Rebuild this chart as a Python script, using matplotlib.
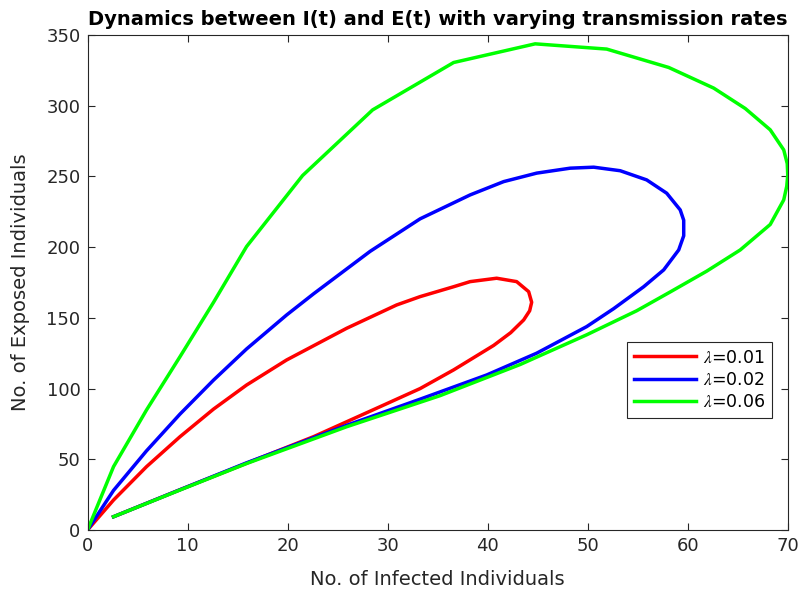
import matplotlib.pyplot as plt

plt.rcParams['font.family'] = ['DejaVu Sans']
plt.rcParams['mathtext.fontset'] = 'stix'

# Trajectories (I = infected, E = exposed)
red_I = [0, 2.6, 5.9, 9.25, 12.6, 15.9, 19.9, 25.9, 30.9, 33.25, 36.6, 38.25,
         40.9, 42.9, 44.1, 44.4, 44.2, 43.6, 42.3, 40.6, 36.6, 33.25, 29.25,
         22.6, 15.9, 9.25, 2.6]
red_E = [0, 21.2, 44.8, 66, 85.5, 102.5, 120.2, 142.6, 159.1, 165, 172, 175.6,
         178, 175.6, 168.5, 161, 155, 148.5, 139.5, 130.5, 113.2, 100, 87.2,
         66, 47.2, 28.5, 9.4]

blue_I = [0, 2.6, 5.9, 9.25, 12.6, 15.9, 19.9, 22.6, 28.25, 33.25, 38.25, 41.6,
          44.9, 48.25, 50.6, 53.25, 55.9, 57.9, 59.25, 59.6, 59.6, 59.1, 57.6,
          55.6, 52.6, 49.9, 44.9, 39.9, 33.25, 25.9, 15.9, 9.25, 2.6]
blue_E = [0, 28, 56, 82, 106, 128, 152, 167, 197, 220, 236.9, 246.3,
          252.3, 255.8, 256.5, 254, 247.5, 238.1, 226.3, 219, 208, 198, 183.9,
          172, 156.5, 143.8, 125, 109.6, 92.5, 74, 47.5, 28.5, 9.4]

green_I = [0, 2.6, 5.9, 9.25, 12.6, 15.9, 21.5, 28.5, 36.6, 44.75, 51.9, 58.1,
           62.6, 65.75, 68.25, 69.6, 69.95, 70.0, 69.9, 69.6, 68.25, 65.25,
           61.9, 58.3, 54.9, 49.9, 43.25, 35.25, 25.9, 15.9, 9.25, 2.6]
green_E = [0, 44.8, 84.9, 122.6, 161, 200.4, 250.6, 297, 330.5, 343.7, 340, 327,
           312.4, 298, 282.9, 268.7, 259, 251, 243, 233.4, 216, 198,
           183, 168.5, 155, 138, 117, 95, 73, 47, 28.3, 9.4]

labels = [r'$\lambda$=0.01', r'$\lambda$=0.02', r'$\lambda$=0.06']

fig = plt.figure(figsize=(8.03, 5.92), dpi=100)
ax = fig.add_axes([0.109, 0.1047, 0.872, 0.8363])

ax.plot(red_I, red_E, color='#ff0000', lw=2.5, label=labels[0])
ax.plot(blue_I, blue_E, color='#0000ff', lw=2.5, label=labels[1])
ax.plot(green_I, green_E, color='#00ff00', lw=2.5, label=labels[2])

ax.set_xlim(0, 70)
ax.set_ylim(0, 350)
ax.set_xticks(range(0, 71, 10))
ax.set_yticks(range(0, 351, 50))
ax.tick_params(direction='in', top=True, right=True, labelsize=13,
               colors='#262626', length=5, pad=5)
for s in ax.spines.values():
    s.set_color('#262626')
    s.set_linewidth(0.8)

ax.set_xlabel('No. of Infected Individuals', fontsize=14, color='#262626',
              labelpad=11)
ax.set_ylabel('No. of Exposed Individuals', fontsize=14, color='#262626',
              labelpad=12)
ax.set_title('Dynamics between I(t) and E(t) with varying transmission rates',
             fontsize=14, fontweight='bold', pad=7)

leg = ax.legend(loc='lower right', bbox_to_anchor=(0.978, 0.226), fontsize=12.5,
                fancybox=False, edgecolor='#262626', framealpha=1,
                handlelength=3.6, borderaxespad=0, labelspacing=0.25,
                handletextpad=0.4, borderpad=0.4)
leg.get_frame().set_linewidth(0.8)

fig.savefig('out.png', dpi=100)
